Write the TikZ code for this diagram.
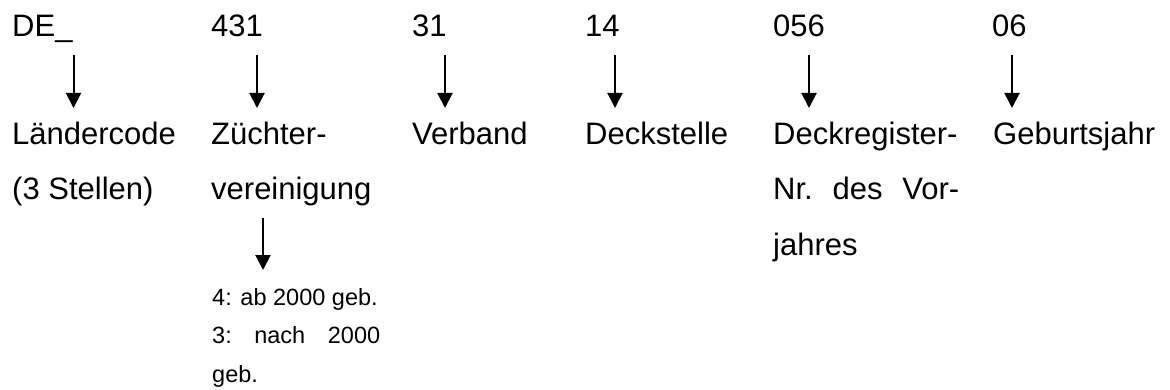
\documentclass[tikz,border=0pt]{standalone}
\usepackage{fontspec}
\setmainfont{Liberation Sans}
\usetikzlibrary{arrows.meta}
\newlength{\colw}
\begin{document}
\begin{tikzpicture}[x=1pt,y=-1pt,
  big/.style={anchor=base west,inner sep=0pt,font=\fontsize{31}{31}\selectfont},
  small/.style={anchor=base west,inner sep=0pt,font=\fontsize{23.5}{23.5}\selectfont},
  arr/.style={line width=2pt,-{Triangle[length=15pt,width=15pt]}}]
\useasboundingbox (0,0) rectangle (1170,390);
% top row
\node[big] (c1) at (12,37) {DE\_};
\node[big] (c2) at (211,37) {431};
\node[big] (c3) at (412,37) {31};
\node[big] (c4) at (585,37) {14};
\node[big] (c5) at (773,37) {056};
\node[big] (c6) at (992,37) {06};
% labels
\node[big] (l1) at (12,145) {Ländercode};
\node[big] (l1b) at (12,200) {(3 Stellen)};
\node[big] (l2) at (211,145) {Züchter-};
\node[big] (l2b) at (211,200) {vereinigung};
\node[big] (l3) at (412,145) {Verband};
\node[big] (l4) at (585,145) {Deckstelle};
\node[big] (l5) at (773,145) {Deckregister-};
\node[big] (l5b) at (773,200) {\makebox[186pt][s]{Nr.\ des\ Vor-}};
\node[big] (l5c) at (773,255) {jahres};
\node[big] (l6) at (993,145) {Geburtsjahr};
% small notes
\node[small] (n1) at (212,305) {4: ab 2000 geb.};
\node[small] (n2) at (212,343) {\makebox[168pt][s]{3:\ nach\ 2000}};
\node[small] (n3) at (212,382) {geb.};
% arrow coordinates
\foreach \i/\x in {1/73.5,2/257,3/445,4/615,5/809,6/1012}{
  \coordinate (s\i) at (\x,55);
  \coordinate (e\i) at (\x,108);
}
\coordinate (s7) at (263,218);
\coordinate (e7) at (263,270);
\foreach \i in {1,...,7}{\draw[arr] (s\i) -- (e\i);}
\end{tikzpicture}
\end{document}
